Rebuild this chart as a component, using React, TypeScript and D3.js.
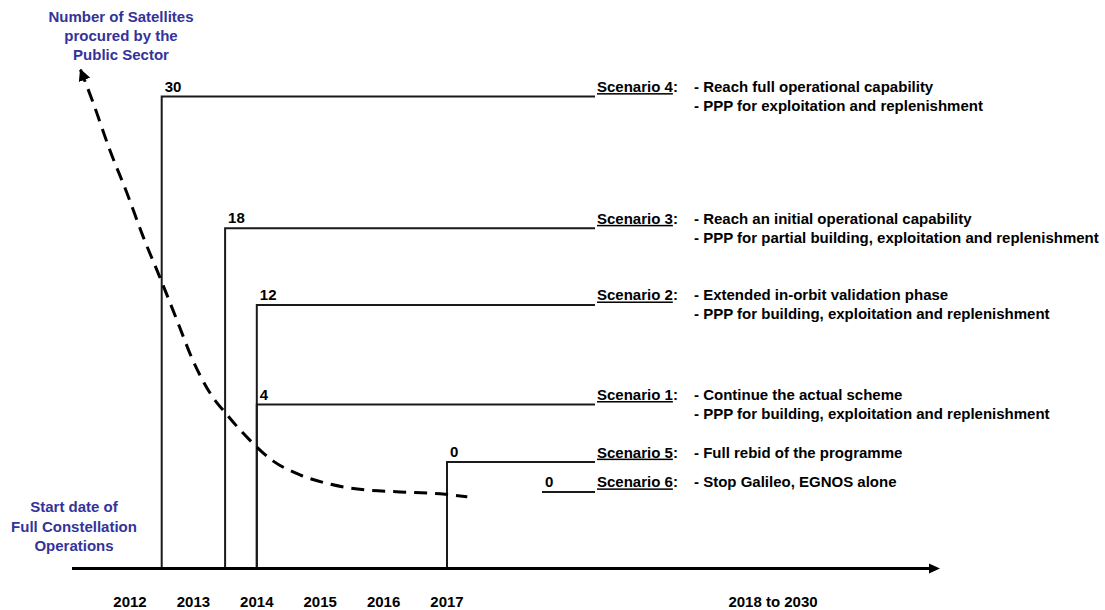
import * as d3 from 'd3';

// year ticks along the time axis
const years = [2012, 2013, 2014, 2015, 2016, 2017];
const laterLabel = '2018 to 2030';

// scenarios, top to bottom
const scenarioNames = ['Scenario 4', 'Scenario 3', 'Scenario 2', 'Scenario 1', 'Scenario 5', 'Scenario 6'];
const satellites = [30, 18, 12, 4, 0, 0];
const startYears: (number | null)[] = [2012.5, 2013.5, 2014, 2014, 2017, null];
// schematic height of each step (chart units, 0..100)
const levels = [96.7, 69.7, 54, 33.6, 21.8, 15.7];
const descriptions = [
  ['- Reach full operational capability', '- PPP for exploitation and replenishment'],
  ['- Reach an initial operational capability', '- PPP for partial building, exploitation and replenishment'],
  ['- Extended in-orbit validation phase', '- PPP for building, exploitation and replenishment'],
  ['- Continue the actual scheme', '- PPP for building, exploitation and replenishment'],
  ['- Full rebid of the programme'],
  ['- Stop Galileo, EGNOS alone'],
];

// dashed trend curve (year, level)
const curveYears = [2011.22, 2011.42, 2011.68, 2011.95, 2012.21, 2012.47, 2012.74, 2012.99, 2013.26, 2013.53, 2013.89, 2014.26, 2014.68, 2015.15, 2015.71, 2016.26, 2016.89, 2017.32];
const curveLevels = [102.2, 95.4, 85.8, 77.0, 67.9, 59.7, 50.9, 42.7, 36.0, 31.5, 26.3, 22.0, 19.2, 17.3, 16.1, 15.7, 15.3, 14.7];

const yTitle = ['Number of Satellites', 'procured by the', 'Public Sector'];
const xTitle = ['Start date of', 'Full Constellation', 'Operations'];

const W = 1105;
const H = 610;
const blue = '#333399';
const ink = '#1a1a1a';
const font = 'Arial, "Liberation Sans", sans-serif';

export default function App() {
  const x = d3.scaleLinear().domain([2012, 2017]).range([130, 447]);
  const y = d3.scaleLinear().domain([0, 100]).range([568.5, 80.5]);

  const axisY = y(0);
  const axisStart = 72;
  const axisEnd = 940;
  const lineEnd = 595;
  const nameX = 597;
  const descX = 694;
  const stub = 53;
  const laterX = 773;

  const curve = d3.line<number>()
    .x((_, i) => x(curveYears[i]))
    .y((_, i) => y(curveLevels[i]))
    .curve(d3.curveMonotoneX);

  const curvePts = curveYears.map((_, i) => i);

  return (
    <svg width={W} height={H} style={{ position: 'absolute', left: 0, top: 0, background: '#fff' }}
      fontFamily={font} fontWeight="bold" fontSize={15}>
      <defs>
        <marker id="tip" viewBox="0 0 10 10" refX="9" refY="5" markerWidth="4" markerHeight="4"
          orient="auto-start-reverse" markerUnits="strokeWidth">
          <path d="M0,0 L10,5 L0,10 z" fill="#000" />
        </marker>
      </defs>

      {/* y title */}
      {yTitle.map((t, i) => (
        <text key={t} x={121} y={21.7 + i * 19.2} textAnchor="middle" fill={blue}>{t}</text>
      ))}
      {/* x title */}
      {xTitle.map((t, i) => (
        <text key={t} x={74} y={512.3 + i * 19.3} textAnchor="middle" fill={blue}>{t}</text>
      ))}

      {/* steps */}
      {scenarioNames.map((name, i) => {
        const yy = y(levels[i]);
        const sy = startYears[i];
        const x0 = sy == null ? lineEnd - stub : x(sy);
        const path = sy == null
          ? `M${x0},${yy}H${lineEnd}`
          : `M${x0},${axisY}V${yy}H${lineEnd}`;
        return (
          <g key={name}>
            <path d={path} fill="none" stroke={ink} strokeWidth={2} />
            <text x={x0 + 3} y={yy - 5} fill="#000">{satellites[i]}</text>
            <text x={nameX} y={yy - 4.5} fill="#000">
              <tspan style={{ textDecoration: 'underline' }}>{name}</tspan>:
            </text>
            {descriptions[i].map((d, j) => (
              <text key={j} x={descX} y={yy - 4.5 + j * 19} fill="#000">{d}</text>
            ))}
          </g>
        );
      })}

      {/* dashed curve */}
      <path d={curve(curvePts) ?? ''} fill="none" stroke="#000" strokeWidth={3}
        strokeDasharray="13 8" markerStart="url(#tip)" />

      {/* time axis */}
      <line x1={axisStart} x2={axisEnd - 10} y1={axisY} y2={axisY} stroke="#000" strokeWidth={3} />
      <path d={`M${axisEnd - 11},${axisY - 5}L${axisEnd},${axisY}L${axisEnd - 11},${axisY + 5}z`} fill="#000" />
      {years.map(yr => (
        <text key={yr} x={x(yr)} y={606.5} textAnchor="middle" fill="#000">{yr}</text>
      ))}
      <text x={laterX} y={606.5} textAnchor="middle" fill="#000">{laterLabel}</text>
    </svg>
  );
}
